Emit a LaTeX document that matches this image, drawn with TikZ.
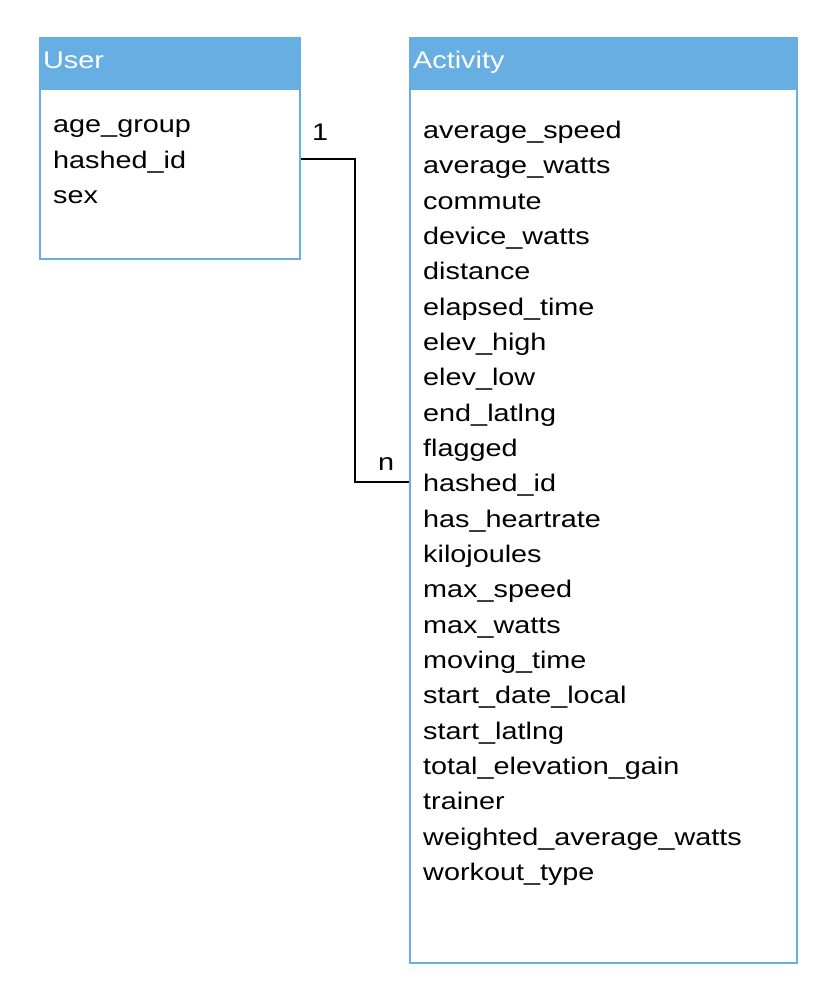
\documentclass[tikz,border=0pt]{standalone}
\usepackage{fontspec}
\setmainfont{Liberation Sans}[FakeStretch=1.2]
\definecolor{erblue}{RGB}{103,174,226}

\begin{document}
\begin{tikzpicture}[
    x=1pt, y=-1pt,
    entity/.style={draw=erblue, line width=2pt, anchor=north west, inner sep=0pt},
    head/.style={entity, fill=erblue},
    title/.style={anchor=base west, inner sep=0pt, text=white, font=\fontsize{24}{29}\selectfont},
    attr/.style={anchor=base west, inner sep=0pt, font=\fontsize{24}{29}\selectfont},
    card/.style={anchor=base west, inner sep=0pt, font=\fontsize{24}{29}\selectfont},
    link/.style={draw, line width=2pt}
  ]
  \useasboundingbox (0,0) rectangle (834,1000);

  % User table
  \node[entity, minimum width=260pt, minimum height=221pt] (user) at (39,37) {};
  \node[head, minimum width=260pt, minimum height=51pt] (user-head) at (39,37) {};
  \node[title] (user-title) at (43,69) {User};
  \foreach \f [count=\i] in {age\_group, hashed\_id, sex}
    \node[attr] (user-\i) at (53, {133+35.3*(\i-1)}) {\f};

  % Activity table
  \node[entity, minimum width=387pt, minimum height=925pt] (act) at (409,37) {};
  \node[head, minimum width=387pt, minimum height=51pt] (act-head) at (409,37) {};
  \node[title] (act-title) at (413,69) {Activity};
  \foreach \f [count=\i] in {average\_speed, average\_watts, commute, device\_watts,
      distance, elapsed\_time, elev\_high, elev\_low, end\_latlng, flagged,
      hashed\_id, has\_heartrate, kilojoules, max\_speed, max\_watts, moving\_time,
      start\_date\_local, start\_latlng, total\_elevation\_gain, trainer,
      weighted\_average\_watts, workout\_type}
    \node[attr] (act-\i) at (423, {138.5+35.33*(\i-1)}) {\f};

  % one-to-many link on hashed_id
  \coordinate (user-key) at ([yshift=9.5pt]user-2.base);
  \coordinate (act-key) at ([yshift=9.8pt]act-11.base);
  \draw[link] (user.east |- user-key) -- ++(54,0) |- (act.west |- act-key);
  \node[card] (one) at (312,141) {1};
  \node[card] (many) at (378,470) {n};

\end{tikzpicture}
\end{document}
